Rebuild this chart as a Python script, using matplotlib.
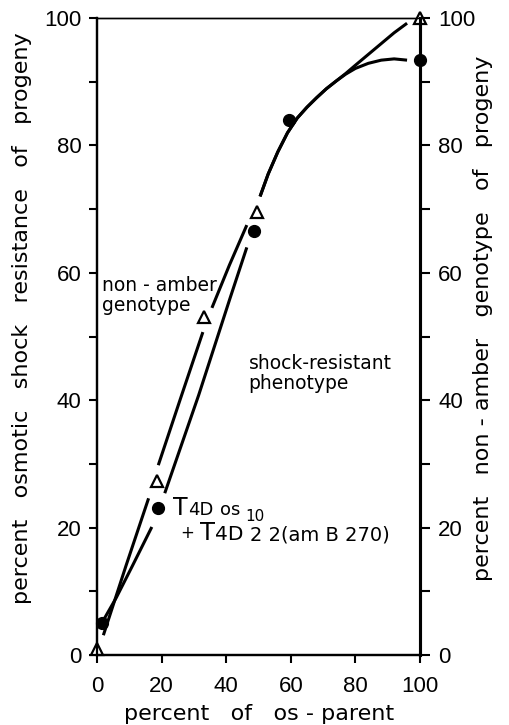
import numpy as np
import matplotlib
matplotlib.use("Agg")
import matplotlib.pyplot as plt

plt.rcParams['font.family'] = ['DejaVu Sans']

# Data points
nonamber_x = [0, 18.5, 33, 49.5, 100]
nonamber_y = [1, 27.3, 53, 69.5, 100]
shock_x = [1.5, 19, 48.5, 59.5, 100]
shock_y = [5, 23, 66.5, 84, 93.5]

# Hand-drawn curves (NaN = gap in the drawn line)
nan = np.nan
nonamber_curve_x = [2, 9, 16, nan, 19, 25.7, 32.8, nan, 35.6, 41, 46.4, nan,
                    50.5, 53, 56, 59, 62, 65, 68, 71, 74, 77, 80, 84, 88, 92, 96]
nonamber_curve_y = [3.1, 14, 24.6, nan, 29.8, 40, 50.7, nan, 54.5, 61.2, 67.5, nan,
                    72, 75.5, 79, 82, 84.3, 86, 87.5, 88.9, 90.1, 91.3, 92.6, 94.3, 96, 97.7, 99.2]
shock_curve_x = [1.5, 6, 11, 17, nan, 21, 31.5, 41.2, 46.4, nan,
                 50.5, 53, 56, 59, 62, 65, 68, 71, 74, 77, 80, 84, 88, 92, 96]
shock_curve_y = [5, 9, 14, 20.1, nan, 25.4, 40.8, 56, 64, nan,
                 72, 75.5, 79, 82, 84.3, 86, 87.5, 88.9, 90.1, 91.2, 92.1, 92.9, 93.4, 93.6, 93.4]

x_ticks = [0, 20, 40, 60, 80, 100]
y_ticks = [0, 10, 20, 30, 40, 50, 60, 70, 80, 90, 100]
y_ticklabels = ['0', '', '20', '', '40', '', '60', '', '80', '', '100']

fig = plt.figure(figsize=(5.1, 7.25), dpi=100)
ax = fig.add_axes([0.190, 0.0966, 0.6335, 0.8784])

ax.plot(nonamber_curve_x, nonamber_curve_y, color='black', lw=2.2, solid_capstyle='butt')
ax.plot(shock_curve_x, shock_curve_y, color='black', lw=2.2, solid_capstyle='butt')
ax.plot(nonamber_x, nonamber_y, linestyle='none', marker='^', ms=8.5, mfc='white',
        mec='black', mew=1.6, clip_on=False, zorder=5)
ax.plot(shock_x, shock_y, linestyle='none', marker='o', ms=8.5, mfc='black',
        mec='black', clip_on=False, zorder=5)

ax.set_xlim(0, 100)
ax.set_ylim(0, 100)

tickfont = dict(family=['Liberation Sans', 'DejaVu Sans'], size=16)
ax.set_xticks(x_ticks)
ax.set_xticklabels([str(v) for v in x_ticks], fontdict=tickfont)
ax.set_yticks(y_ticks)
ax.set_yticklabels(y_ticklabels, fontdict=tickfont)
ax.tick_params(axis='x', direction='out', length=6, width=1.5, pad=9)
ax.tick_params(axis='y', direction='out', length=6, width=1.5, pad=5)

ax2 = ax.twinx()
ax2.set_ylim(0, 100)
ax2.set_yticks(y_ticks)
ax2.set_yticklabels(y_ticklabels, fontdict=tickfont)
ax2.tick_params(axis='y', direction='out', length=7, width=1.5, pad=6)

for a in (ax, ax2):
    a.spines['left'].set_linewidth(1.6)
    a.spines['bottom'].set_linewidth(1.6)
    a.spines['right'].set_linewidth(2.2)
    a.spines['top'].set_linewidth(1.0)

# Axis labels
fig.text(259 / 510, 1 - 714 / 725, 'percent   of   os - parent', ha='center', va='center',
         fontsize=16)
fig.text(22 / 510, 1 - 318 / 725, 'percent   osmotic   shock   resistance   of   progeny',
         rotation=90, ha='center', va='center', fontsize=16)
fig.text(483 / 510, 1 - 318 / 725, 'percent   non - amber   genotype   of   progeny',
         rotation=90, ha='center', va='center', fontsize=16)

# Curve annotations
ax.text(1.5, 53.4, 'non - amber\ngenotype', fontsize=13.5, ha='left', va='bottom', linespacing=1.05)
ax.text(47, 41.1, 'shock-resistant\nphenotype', fontsize=13.5, ha='left', va='bottom', linespacing=1.05)

# Strain annotation
ax.text(23.5, 22.0, 'T', fontsize=17, ha='left', va='baseline')
ax.text(28.2, 22.0, '4D', fontsize=13, ha='left', va='baseline')
ax.text(38.1, 22.0, 'os', fontsize=13, ha='left', va='baseline')
ax.text(45.8, 21.1, '10', fontsize=11, ha='left', va='baseline')
ax.text(27.9, 19.2, '+', fontsize=12, ha='center', va='center')
ax.text(31.9, 18.05, 'T', fontsize=17.5, ha='left', va='baseline')
ax.text(36.5, 18.05, '4D', fontsize=14.5, ha='left', va='baseline')
ax.text(47.4, 18.05, '2 2(am B 270)', fontsize=14, ha='left', va='baseline')

fig.savefig('out.png', dpi=100)
